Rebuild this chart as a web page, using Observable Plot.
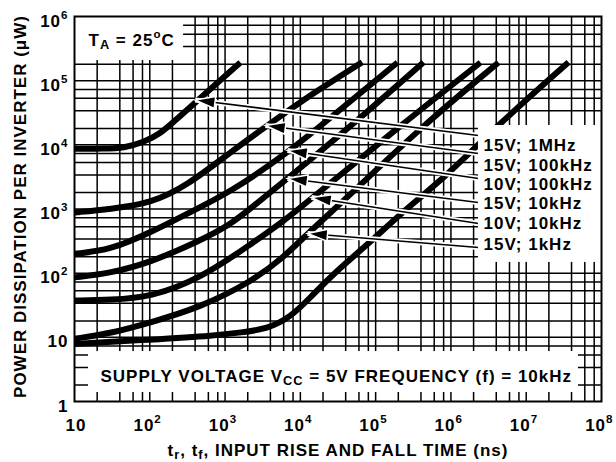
<!DOCTYPE html>
<html><head><meta charset="utf-8">
<script src="https://cdn.jsdelivr.net/npm/d3@7"></script>
<script src="https://cdn.jsdelivr.net/npm/@observablehq/plot@0.6"></script>
<style>
body{margin:0;background:#fff}
svg text{letter-spacing:1px}
</style>
</head><body><div id="chart"></div>
<script>
// ---- data ----
const ns_15V_1MHz   = [10, 25, 45, 83, 140, 230, 430, 1600];
const uW_15V_1MHz   = [8700, 8700, 8900, 11000, 15000, 25500, 49000, 192000];
const ns_15V_100kHz = [10, 30, 102, 314, 1180, 3630, 16700, 66400];
const uW_15V_100kHz = [883, 1000, 1220, 2320, 7670, 20000, 70300, 194000];
const ns_10V_100kHz = [10, 30, 102, 348, 1180, 6960, 25100, 195000];
const uW_10V_100kHz = [200, 230, 430, 900, 1830, 7670, 26400, 192000];
const ns_15V_10kHz  = [10, 30, 102, 472, 1180, 2180, 6680, 46400, 433000];
const uW_15V_10kHz  = [86, 100, 147, 323, 573, 1020, 2960, 19300, 194000];
const ns_10V_10kHz  = [10, 30, 102, 472, 2180, 6150, 14100, 214000, 2470000];
const uW_10V_10kHz  = [37.5, 38.5, 42, 83, 280, 662, 1460, 20000, 192000];
const ns_15V_1kHz   = [10, 30, 102, 472, 2180, 6030, 12450, 46400, 395000, 4280000];
const uW_15V_1kHz   = [9.5, 11.5, 17, 29.5, 72, 177, 415, 1680, 18600, 192000];
const ns_5V_10kHz   = [10, 102, 785, 1600, 3630, 7400, 13600, 27600, 90000, 214000, 892000, 4120000, 36500000];
const uW_5V_10kHz   = [7.9, 9.2, 10.7, 11.9, 13.5, 20.6, 41.8, 99, 323, 851, 3330, 20000, 194000];

const legendLabels = ["15V; 1MHz", "15V; 100kHz", "10V; 100kHz", "15V; 10kHz", "10V; 10kHz", "15V; 1kHz"];
const arrowFromX = 2.32e6;
const arrowFromY = [13970, 7330, 2990, 1262, 594, 251];
const arrowToX   = [400, 3440, 6750, 6750, 14060, 12450];
const arrowToY   = [50000, 20000, 8170, 2990, 1510, 415];

const xTicks = [10, 1e2, 1e3, 1e4, 1e5, 1e6, 1e7, 1e8];
const xTickLabels = ["10", "10^{2}", "10^{3}", "10^{4}", "10^{5}", "10^{6}", "10^{7}", "10^{8}"];
const yTicks = [1, 10, 1e2, 1e3, 1e4, 1e5, 1e6];
const yTickLabels = ["1", "10", "10^{2}", "10^{3}", "10^{4}", "10^{5}", "10^{6}"];
const xGridSteps = [1, 2, 4, 6, 8];
const yGridSteps = [1, 1.8, 3.4, 5.3, 7.3];

const seriesList = [
  ["15V; 1MHz", ns_15V_1MHz, uW_15V_1MHz],
  ["15V; 100kHz", ns_15V_100kHz, uW_15V_100kHz],
  ["10V; 100kHz", ns_10V_100kHz, uW_10V_100kHz],
  ["15V; 10kHz", ns_15V_10kHz, uW_15V_10kHz],
  ["10V; 10kHz", ns_10V_10kHz, uW_10V_10kHz],
  ["15V; 1kHz", ns_15V_1kHz, uW_15V_1kHz],
  ["5V; 10kHz", ns_5V_10kHz, uW_5V_10kHz]
];
const rows = seriesList.flatMap(([name, xs, ys]) => xs.map((x, i) => ({series: name, ns: x, uW: ys[i]})));

const gridX = [10, 1e2, 1e3, 1e4, 1e5, 1e6, 1e7].flatMap(d => xGridSteps.map(s => d * s)).filter(v => v > 10 && v < 1e8);
const gridY = [1, 10, 1e2, 1e3, 1e4, 1e5].flatMap(d => yGridSteps.map(s => d * s)).filter(v => v > 1 && v < 1e6);

// ---- layout ----
const W = 616, H = 462;
const M = {left: 74, right: 15, top: 16, bottom: 61};
const sx = d3.scaleLog().domain([10, 1e8]).range([M.left, W - M.right]);
const sy = d3.scaleLog().domain([1, 1e6]).range([H - M.bottom, M.top]);

const arrows = legendLabels.map((label, i) => {
  const a = {label, x1: arrowFromX, y1: arrowFromY[i], x2: arrowToX[i], y2: arrowToY[i]};
  a.angle = Math.atan2(sy(a.y2) - sy(a.y1), sx(a.x2) - sx(a.x1));
  return a;
});
function head(angle) {
  return {draw(ctx, size) {
    const r = Math.sqrt(size / Math.PI);
    const L = 2 * r, w = 0.6 * r, c = Math.cos(angle), s = Math.sin(angle);
    const pts = [[0, 0], [-L, -w], [-L, w]].map(([px, py]) => [px * c - py * s, px * s + py * c]);
    ctx.moveTo(pts[0][0], pts[0][1]);
    ctx.lineTo(pts[1][0], pts[1][1]);
    ctx.lineTo(pts[2][0], pts[2][1]);
    ctx.closePath();
  }};
}

const font = "Liberation Sans, Arial, Helvetica, sans-serif";
const txt = {fontWeight: "bold", fontSize: 17, fill: "black"};

const svg = Plot.plot({
  width: W, height: H,
  marginLeft: M.left, marginRight: M.right, marginTop: M.top, marginBottom: M.bottom,
  style: {fontFamily: font, background: "white", color: "black"},
  x: {type: "log", domain: [10, 1e8], axis: null},
  y: {type: "log", domain: [1, 1e6], axis: null},
  marks: [
    Plot.ruleX(gridX, {stroke: "black", strokeWidth: 1.5}),
    Plot.ruleY(gridY, {stroke: "black", strokeWidth: 1.5}),
    Plot.line(rows, {x: "ns", y: "uW", z: "series", stroke: "black", strokeWidth: 6, curve: "basis", strokeLinecap: "butt"}),
    Plot.link(arrows, {x1: "x1", y1: "y1", x2: "x2", y2: "y2", stroke: "white", strokeWidth: 5, strokeLinecap: "butt"}),
    Plot.link(arrows, {x1: "x1", y1: "y1", x2: "x2", y2: "y2", stroke: "black", strokeWidth: 1.6, strokeLinecap: "butt"}),
    ...arrows.map(a => Plot.dot([a], {x: "x2", y: "y2", symbol: head(a.angle), r: 10, fill: "black", stroke: "white", strokeWidth: 1.5})),
    // white label panels
    Plot.rect([0], {x1: 10, x2: 281, y1: 2.06e5, y2: 1e6, fill: "white"}),
    Plot.rect([0], {x1: 2.32e6, x2: 1e8, y1: 147, y2: 2.0e4, fill: "white"}),
    Plot.rect([0], {x1: 15.35, x2: 4.94e7, y1: 1.38, y2: 6.0, fill: "white"}),
    // texts
    Plot.text(["T_{A} = 25^{o}C"], {...txt, frameAnchor: "top-left", dx: 14, dy: 29, textAnchor: "start", lineAnchor: "bottom"}),
    Plot.text(["SUPPLY VOLTAGE V_{CC} = 5V FREQUENCY (f) = 10kHz"], {...txt, frameAnchor: "bottom-left", dx: 26, dy: -20, textAnchor: "start", lineAnchor: "bottom"}),
    ...legendLabels.map((s, i) => Plot.text([s], {...txt, frameAnchor: "top-left", dx: 409, dy: [134.5, 154, 173.3, 192.5, 212.3, 233][i], textAnchor: "start", lineAnchor: "bottom"})),
    Plot.text(yTicks.map((v, i) => ({v, label: yTickLabels[i]})), {...txt, y: "v", text: "label", frameAnchor: "left", dx: -6, dy: 10, textAnchor: "end", lineAnchor: "bottom"}),
    Plot.text(xTicks.map((v, i) => ({v, label: xTickLabels[i]})), {...txt, x: "v", text: "label", frameAnchor: "bottom", dx: 12, dy: 29, textAnchor: "end", lineAnchor: "bottom"}),
    Plot.text(["t_{r}, t_{f}, INPUT RISE AND FALL TIME (ns)"], {...txt, frameAnchor: "bottom", dy: 54, textAnchor: "middle", lineAnchor: "bottom"}),
    Plot.text(["POWER DISSIPATION PER INVERTER (μW)"], {...txt, frameAnchor: "left", dx: -53.5, dy: -2.5, rotate: -90, textAnchor: "middle", lineAnchor: "middle"}),
    Plot.frame({stroke: "black", strokeWidth: 2})
  ]
});

// superscripts / subscripts as real tspans
svg.querySelectorAll("text").forEach(el => {
  const s = el.textContent;
  if (!/[\^_]\{/.test(s)) return;
  const parts = s.split(/([\^_]\{[^}]*\})/).filter(p => p !== "");
  while (el.firstChild) el.removeChild(el.firstChild);
  let shift = 0;
  for (const p of parts) {
    const m = p.match(/^([\^_])\{([^}]*)\}$/);
    const t = document.createElementNS("http://www.w3.org/2000/svg", "tspan");
    let target = 0, content = p;
    if (m) {
      target = m[1] === "^" ? -8 : 3;
      content = m[2];
      t.setAttribute("font-size", m[1] === "^" ? "0.68em" : "0.75em");
    }
    t.setAttribute("dy", target - shift);
    shift = target;
    t.textContent = content;
    el.appendChild(t);
  }
});

document.getElementById("chart").appendChild(svg);
</script>
</body></html>
